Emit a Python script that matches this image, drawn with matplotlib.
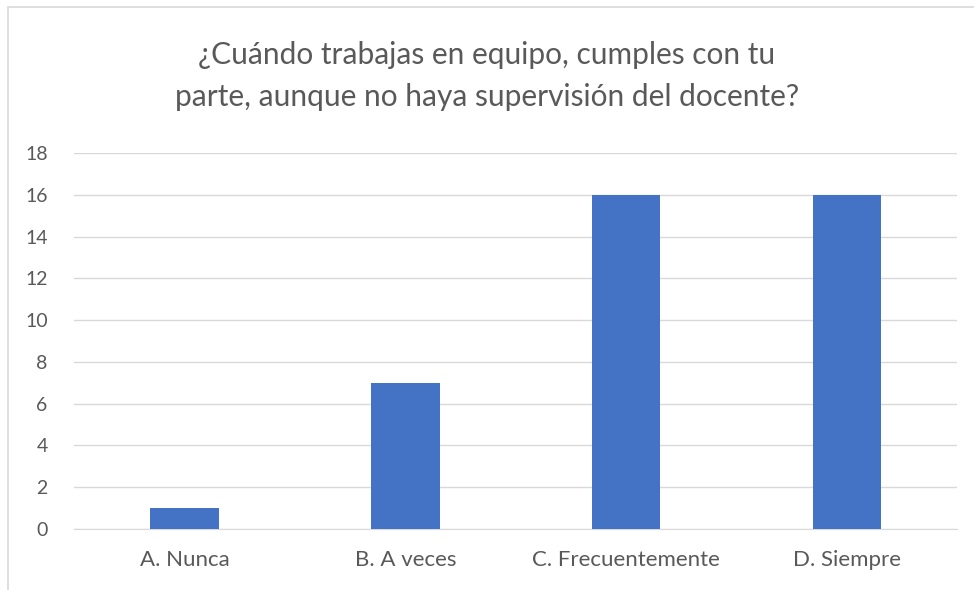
import matplotlib.pyplot as plt
from matplotlib.patches import Rectangle

categorias = ['A. Nunca', 'B. A veces', 'C. Frecuentemente', 'D. Siempre']
respuestas = [1, 7, 16, 16]
ticks_y = [0, 2, 4, 6, 8, 10, 12, 14, 16, 18]

plt.rcParams['font.family'] = ['Lato', 'DejaVu Sans']

fig = plt.figure(figsize=(9.74, 5.9), dpi=100)
ax = fig.add_axes([0.076, 0.1034, 0.907, 0.6373])

# borde del gráfico
fig.patches.append(Rectangle((8 / 974, -0.05), 1.2, 1 - 7 / 590 + 0.05, transform=fig.transFigure,
                             fill=False, edgecolor='#D9D9D9', linewidth=1.2))

ax.bar(range(len(categorias)), respuestas, width=0.31, color='#4472C4', zorder=3)
ax.set_xlim(-0.5, len(categorias) - 0.5)
ax.set_ylim(0, 18)
ax.set_yticks(ticks_y)
ax.set_xticks(range(len(categorias)))
ax.set_xticklabels(categorias)

ax.grid(axis='y', color='#D9D9D9', linewidth=1, zorder=0)
for s in ['top', 'right', 'left']:
    ax.spines[s].set_visible(False)
ax.spines['bottom'].set_color('#D9D9D9')
ax.tick_params(axis='both', length=0, labelcolor='#595959')
ax.tick_params(axis='y', pad=19, labelsize=14)
ax.tick_params(axis='x', pad=15, labelsize=16)

fig.text(0.5, 1 - 76 / 590, '¿Cuándo trabajas en equipo, cumples con tu\nparte, aunque no haya supervisión del docente?',
         ha='center', va='center', fontsize=21.5, color='#595959', linespacing=1.6)

fig.savefig('out.png', dpi=100)
